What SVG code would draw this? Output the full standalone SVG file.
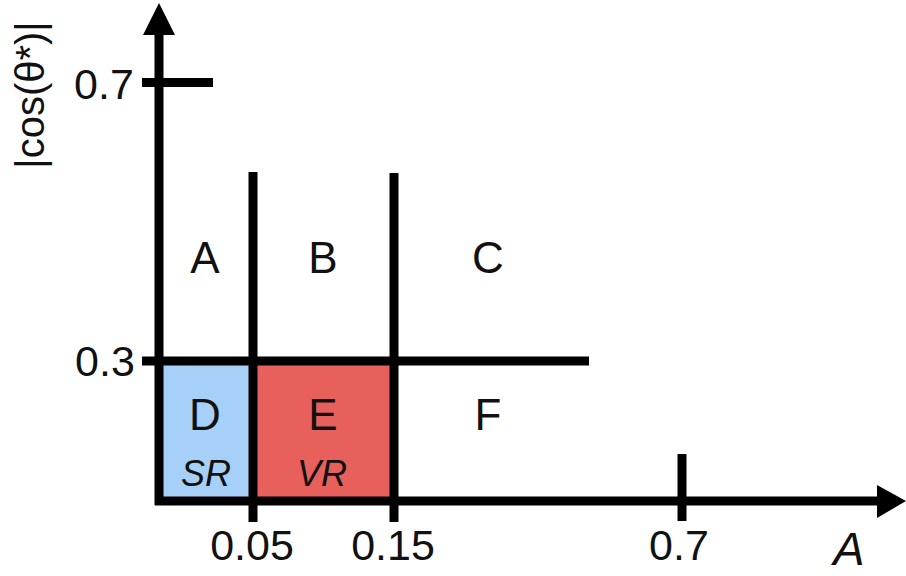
<svg xmlns="http://www.w3.org/2000/svg" width="906" height="576" viewBox="0 0 906 576">
<style>
.ln{stroke:#000;stroke-width:9;fill:none}
.t{font-family:"Liberation Sans",Arial,sans-serif;fill:#111}
.num{font-size:43px;text-anchor:middle}
.reg{font-size:44px;text-anchor:middle}
.it{font-size:36px;font-style:italic;text-anchor:middle}
</style>
<rect width="906" height="576" fill="#fff"/>
<g id="regionD"><rect x="159" y="361" width="94" height="140" fill="#a6d0f8"/><text class="t reg" x="205" y="430">D</text><text class="t it" x="206" y="486">SR</text></g>
<g id="regionE"><rect x="253" y="361" width="141" height="140" fill="#e8605c"/><text class="t reg" x="323" y="430">E</text><text class="t it" x="322" y="486">VR</text></g>
<g id="regionA"><text class="t reg" x="205" y="273">A</text></g>
<g id="regionB"><text class="t reg" x="323" y="273">B</text></g>
<g id="regionC"><text class="t reg" x="488" y="273">C</text></g>
<g id="regionF"><text class="t reg" x="488" y="430">F</text></g>
<g id="connectors">
<line class="ln" x1="159" y1="30" x2="159" y2="505"/>
<polygon points="159,3 143,35 175,35" fill="#000"/>
<line class="ln" x1="155" y1="501" x2="880" y2="501"/>
<polygon points="906,501 877,485 877,518" fill="#000"/>
<line class="ln" x1="142" y1="82.5" x2="213" y2="82.5"/>
<line class="ln" x1="142" y1="361" x2="589" y2="361"/>
<line class="ln" x1="253" y1="172" x2="253" y2="522"/>
<line class="ln" x1="394" y1="173" x2="394" y2="522"/>
<line class="ln" x1="682" y1="454" x2="682" y2="521"/>
</g>
<g id="labels">
<text class="t num" x="104" y="99">0.7</text>
<text class="t num" x="105" y="376">0.3</text>
<text class="t num" x="252" y="560">0.05</text>
<text class="t num" x="393" y="560">0.15</text>
<text class="t num" x="679" y="560">0.7</text>
<text class="t" x="849" y="565" font-size="47" font-style="italic" text-anchor="middle">A</text>
<text class="t" transform="translate(44,95) rotate(-90)" font-size="40" text-anchor="middle">|cos(θ*)|</text>
</g>
</svg>
